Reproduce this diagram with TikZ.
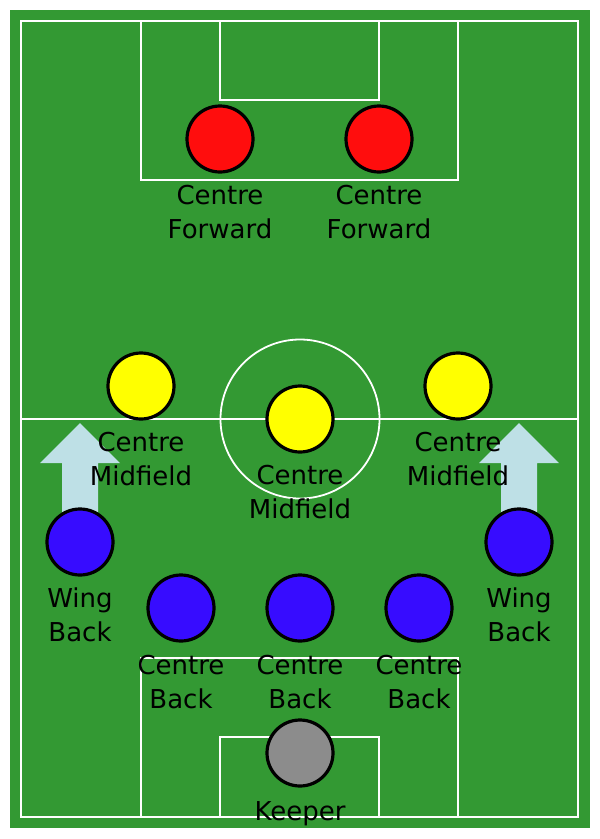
\documentclass[tikz,border=0pt]{standalone}
\usepackage{fontspec}
\setmainfont{DejaVu Sans}
\definecolor{fieldgreen}{RGB}{51,153,51}
\definecolor{fwdred}{RGB}{255,13,13}
\definecolor{midyellow}{RGB}{255,255,0}
\definecolor{defblue}{RGB}{55,12,255}
\definecolor{keepgray}{RGB}{140,140,140}
\definecolor{arrowblue}{RGB}{190,224,230}
\begin{document}
\begin{tikzpicture}[x=1pt,y=-1pt,
  pitch/.style={draw=white,line width=1.8pt},
  player/.style={circle,draw=black,line width=3.2pt,minimum size=66pt,inner sep=0pt},
  lbl/.style={align=center,anchor=base,font=\fontsize{26}{33.5}\selectfont,inner sep=0pt,text=black},
  push/.style={fill=arrowblue}]
\useasboundingbox (0,0) rectangle (600,839);
\fill[fieldgreen] (10,10) rectangle (590,828);
% pitch markings
\draw[pitch] (21,21) rectangle (578,817);
\draw[pitch] (21,419) -- (578,419);
\draw[pitch] (300,419) circle (79.5);
\draw[pitch] (141,21) rectangle (458,180);
\draw[pitch] (220,21) rectangle (379,100);
\draw[pitch] (141,817) rectangle (458,658);
\draw[pitch] (220,817) rectangle (379,737);
% coordinates of wing backs (for arrows)
\coordinate (wblc) at (80,542);
\coordinate (wbrc) at (519,542);
% arrows
\foreach \c in {wblc,wbrc}{
  \fill[push] ([shift={(-18,-30)}]\c) -- ([shift={(-18,-79)}]\c) -- ([shift={(-40,-79)}]\c)
    -- ([shift={(0,-119)}]\c) -- ([shift={(40,-79)}]\c) -- ([shift={(18,-79)}]\c)
    -- ([shift={(18,-30)}]\c) -- cycle;
}
% players
\node[player,fill=fwdred] (cf1) at (220,139) {};
\node[player,fill=fwdred] (cf2) at (379,139) {};
\node[player,fill=midyellow] (cm1) at (141,386) {};
\node[player,fill=midyellow] (cm2) at (300,419) {};
\node[player,fill=midyellow] (cm3) at (458,386) {};
\node[player,fill=defblue] (wbl) at (wblc) {};
\node[player,fill=defblue] (wbr) at (wbrc) {};
\node[player,fill=defblue] (cb1) at (181,608) {};
\node[player,fill=defblue] (cb2) at (300,608) {};
\node[player,fill=defblue] (cb3) at (419,608) {};
\node[player,fill=keepgray] (gk) at (300,753) {};
% labels (base anchor = baseline of last line)
\node[lbl] (lcf1) at ([yshift=-99]cf1.center) {Centre\\Forward};
\node[lbl] (lcf2) at ([yshift=-99]cf2.center) {Centre\\Forward};
\node[lbl] (lcm1) at ([yshift=-99]cm1.center) {Centre\\Midfield};
\node[lbl] (lcm2) at ([yshift=-99]cm2.center) {Centre\\Midfield};
\node[lbl] (lcm3) at ([yshift=-99]cm3.center) {Centre\\Midfield};
\node[lbl] (lwbl) at ([yshift=-99]wbl.center) {Wing\\Back};
\node[lbl] (lwbr) at ([yshift=-99]wbr.center) {Wing\\Back};
\node[lbl] (lcb1) at ([yshift=-100]cb1.center) {Centre\\Back};
\node[lbl] (lcb2) at ([yshift=-100]cb2.center) {Centre\\Back};
\node[lbl] (lcb3) at ([yshift=-100]cb3.center) {Centre\\Back};
\node[lbl] (lgk) at ([yshift=-67]gk.center) {Keeper};
\end{tikzpicture}
\end{document}
